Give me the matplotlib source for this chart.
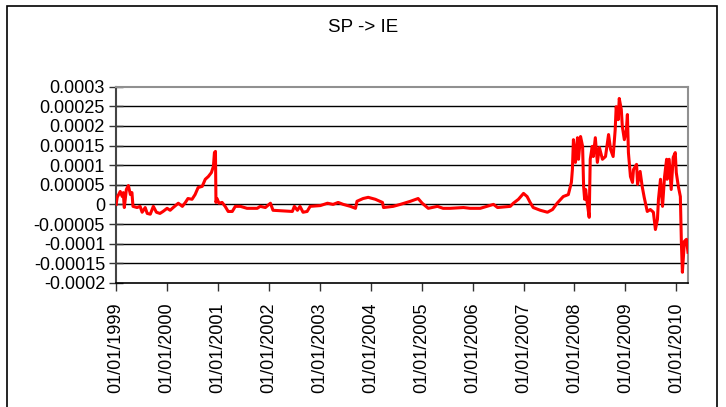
import matplotlib
matplotlib.use("Agg")
import matplotlib.pyplot as plt
import matplotlib.dates as mdates
import matplotlib.patches as mpatches
import numpy as np
import pandas as pd

plt.rcParams["font.family"] = ["Liberation Sans", "DejaVu Sans"]

TITLE = "SP -> IE"

# time as decimal year
years = [
    1999.00, 1999.02, 1999.08, 1999.12, 1999.14, 1999.16, 1999.20, 1999.24,
    1999.28, 1999.31, 1999.33, 1999.41, 1999.47, 1999.51, 1999.57, 1999.61,
    1999.67, 1999.73, 1999.79, 1999.86, 1999.92, 2000.00, 2000.06, 2000.12,
    2000.22, 2000.30, 2000.36, 2000.41, 2000.49, 2000.55, 2000.61, 2000.69,
    2000.75, 2000.81, 2000.87, 2000.91, 2000.93, 2000.95, 2000.96, 2000.98,
    2001.02, 2001.08, 2001.14, 2001.20, 2001.28, 2001.34, 2001.44, 2001.57,
    2001.77, 2001.83, 2001.93, 2002.03, 2002.08, 2002.46, 2002.50, 2002.56,
    2002.61, 2002.67, 2002.75, 2002.81, 2003.01, 2003.15, 2003.26, 2003.36,
    2003.46, 2003.60, 2003.70, 2003.73, 2003.85, 2003.95, 2004.09, 2004.23,
    2004.25, 2004.44, 2004.58, 2004.78, 2004.93, 2005.01, 2005.13, 2005.31,
    2005.42, 2005.56, 2005.82, 2005.95, 2006.15, 2006.41, 2006.49, 2006.74,
    2006.80, 2006.90, 2007.00, 2007.07, 2007.13, 2007.19, 2007.33, 2007.47,
    2007.57, 2007.66, 2007.78, 2007.88, 2007.94, 2007.96, 2007.98, 2008.02,
    2008.06, 2008.08, 2008.12, 2008.16, 2008.18, 2008.20, 2008.22, 2008.25,
    2008.29, 2008.31, 2008.35, 2008.37, 2008.41, 2008.45, 2008.49, 2008.55,
    2008.61, 2008.67, 2008.71, 2008.76, 2008.80, 2008.82, 2008.86, 2008.88,
    2008.92, 2008.94, 2008.98, 2009.02, 2009.04, 2009.06, 2009.10, 2009.14,
    2009.16, 2009.22, 2009.24, 2009.29, 2009.33, 2009.37, 2009.43, 2009.49,
    2009.55, 2009.59, 2009.63, 2009.65, 2009.69, 2009.73, 2009.77, 2009.81,
    2009.82, 2009.86, 2009.90, 2009.94, 2009.98, 2010.00, 2010.04, 2010.08,
    2010.10, 2010.12, 2010.16, 2010.20, 2010.23,
]

# values in units of 1e-5
values_e5 = [
    0.0, 1.8, 3.3, 2.0, 3.0, -0.8, 3.8, 4.8,
    2.5, 3.0, -0.5, -0.8, -0.5, -2.0, -0.8, -2.3,
    -2.5, -0.5, -2.0, -2.3, -1.8, -1.0, -1.5, -0.8,
    0.3, -0.5, 0.5, 1.5, 1.3, 2.5, 4.3, 4.6,
    6.4, 7.1, 8.1, 9.7, 13.2, 13.5, 0.5, 1.5,
    0.3, 0.5, -0.5, -1.8, -1.8, -0.5, -0.5, -1.0,
    -1.0, -0.5, -0.8, 0.3, -1.5, -1.8, -0.5, -1.5,
    -0.5, -2.0, -1.8, -0.5, -0.3, 0.3, 0.0, 0.5,
    0.0, -0.5, -1.0, 0.8, 1.5, 1.8, 1.3, 0.5,
    -0.8, -0.5, 0.0, 0.8, 1.5, 0.3, -1.0, -0.5,
    -1.0, -1.0, -0.8, -1.0, -1.0, 0.0, -0.8, -0.5,
    0.3, 1.3, 2.8, 2.0, 0.5, -0.8, -1.5, -2.0,
    -1.3, 0.3, 2.0, 2.5, 5.6, 8.9, 16.5, 10.7,
    17.0, 11.5, 17.3, 14.8, 4.6, 1.3, 3.8, 0.5,
    -3.3, 11.5, 14.8, 12.2, 17.0, 10.7, 14.5, 11.5,
    12.2, 17.8, 14.0, 12.2, 19.0, 24.9, 21.6, 27.0,
    24.2, 19.9, 16.5, 19.0, 22.9, 13.2, 7.1, 5.6,
    8.9, 10.2, 5.1, 8.4, 4.6, 1.8, -1.8, -1.3,
    -2.0, -6.4, -3.8, 1.3, 6.4, -0.5, 7.1, 11.5,
    6.4, 11.5, 3.8, 12.0, 13.2, 8.1, 4.6, 2.0,
    -9.7, -17.3, -9.4, -8.9, -12.2,
]

y_ticks = [-0.0002, -0.00015, -0.0001, -0.00005, 0, 0.00005, 0.0001,
           0.00015, 0.0002, 0.00025, 0.0003]
y_tick_labels = ["-0.0002", "-0.00015", "-0.0001", "-0.00005", "0", "0.00005",
                 "0.0001", "0.00015", "0.0002", "0.00025", "0.0003"]
tick_years = list(range(1999, 2011))


def to_date(t):
    return pd.Timestamp("1999-01-01") + pd.to_timedelta((t - 1999) * 365.25, unit="D")


dates = [to_date(t) for t in years]
values = np.array(values_e5) * 1e-5

fig = plt.figure(figsize=(7.26, 4.07), dpi=100)
ax = fig.add_axes([0.160, 0.305, 0.788, 0.482])

# outer chart border (bottom edge falls outside the picture)
fig.patches.append(mpatches.Rectangle(
    (0.0096, -0.05), 0.978, 1.035, transform=fig.transFigure,
    fill=False, edgecolor="black", linewidth=1.2, zorder=0))

for yv in y_ticks[1:-1]:
    ax.axhline(yv, color="black", linewidth=1.0, zorder=1)

ax.plot(dates, values, color="#ff0000", linewidth=2.2, zorder=3,
        solid_joinstyle="round")

ax.set_ylim(-0.0002, 0.0003)
ax.set_xlim(to_date(1999.0), to_date(2010.235))
ax.set_yticks(y_ticks)
ax.set_yticklabels(y_tick_labels)
ax.set_xticks([pd.Timestamp(f"{y}-01-01") for y in tick_years])
ax.xaxis.set_major_formatter(mdates.DateFormatter("%d/%m/%Y"))
plt.setp(ax.get_xticklabels(), rotation=90)

ax.tick_params(axis="y", direction="inout", length=10, width=1.0, pad=3,
               labelsize=13, color="#333333")
ax.tick_params(axis="x", direction="out", length=6, width=1.0, pad=8,
               labelsize=13, color="#333333")

ax.spines["top"].set_color("#909090")
ax.spines["right"].set_color("#909090")
ax.spines["top"].set_linewidth(1.5)
ax.spines["right"].set_linewidth(1.5)
ax.spines["left"].set_color("#444444")
ax.spines["left"].set_linewidth(1.5)
ax.spines["bottom"].set_color("black")
ax.spines["bottom"].set_linewidth(1.2)

fig.text(0.5, 1 - 28 / 407, TITLE, ha="center", va="center", fontsize=13.5)

fig.savefig("out.png", dpi=100)
